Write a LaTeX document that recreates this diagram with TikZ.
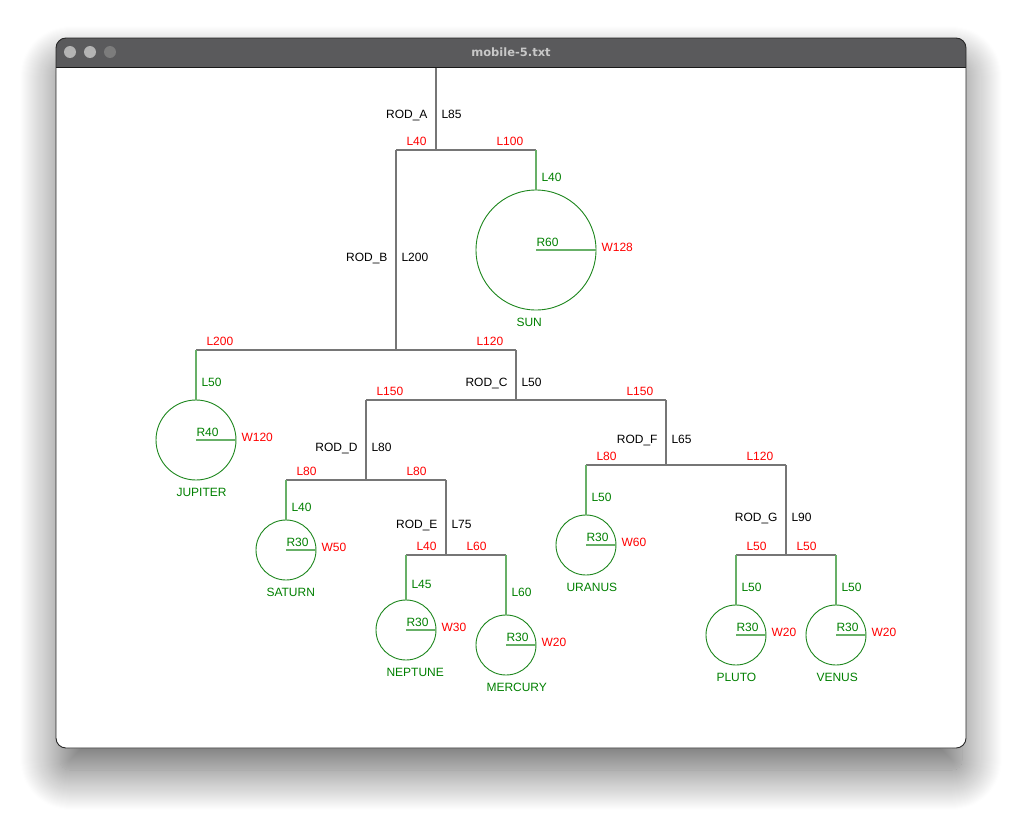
\documentclass[tikz,border=0pt]{standalone}
\usepackage{fontspec}
\setmainfont{Liberation Sans}
\newfontfamily\titlefont{DejaVu Sans}
\usetikzlibrary{shadows.blur}

\definecolor{rodgray}{RGB}{118,118,118}
\definecolor{stemgreen}{RGB}{104,176,104}
\definecolor{ballgreen}{RGB}{30,135,30}
\definecolor{txtgreen}{RGB}{0,128,0}
\definecolor{txtred}{RGB}{255,0,0}
\definecolor{titlebar}{RGB}{90,90,92}
\definecolor{titletext}{RGB}{200,200,200}
\definecolor{lightbtn}{RGB}{180,180,180}
\definecolor{darkbtn}{RGB}{124,124,124}

\tikzset{
  lab/.style={font=\fontsize{12}{14}\selectfont, inner sep=0pt, outer sep=0pt},
  rodname/.style={lab, anchor=base east, text=black},
  rodlen/.style={lab, anchor=base west, text=black},
  armlen/.style={lab, anchor=base west, text=txtred},
  stemlen/.style={lab, anchor=base west, text=txtgreen},
  radlab/.style={lab, anchor=base west, text=txtgreen},
  wlab/.style={lab, anchor=base west, text=txtred},
  namelab/.style={lab, anchor=base west, text=txtgreen},
  rod/.style={draw=rodgray, line width=1.4pt},
  stem/.style={draw=stemgreen, line width=1.5pt},
  ball/.style={circle, draw=ballgreen, line width=0.9pt, inner sep=0pt, outer sep=0pt},
  btn/.style={circle, inner sep=0pt, minimum size=12pt},
}

% A hanging weight: name, x, top of its string, string length, radius, weight
\newcommand\mobweight[6]{%
  \coordinate (#1-top) at (#2,#3);
  \pgfmathsetmacro\mobcy{#3+#4+#5}%
  \pgfmathsetmacro\mobmid{#3+#4/2}%
  \node[ball, minimum size=2*#5 pt] (#1) at (#2,\mobcy) {};
  \coordinate (#1-c) at (#2,\mobcy);
  \coordinate (#1-edge) at (#2+#5,\mobcy);
  \draw[stem] (#1-top) -- (#1.north);
  \draw[stem] (#1-c) -- (#1-edge);
  \node[stemlen] (#1-L) at (#2+5.5,\mobmid+11) {L#4};
  \node[radlab] (#1-R) at (#2+0.5,\mobcy-4) {R#5};
  \node[wlab] (#1-W) at (#2+#5+5.5,\mobcy+1) {W#6};
  \node[namelab] (#1-N) at (#2-19.5,\mobcy+#5+16) {\MakeUppercase{#1}};
}

% A rod: name, pivot x, y of the bar, left arm, right arm
\newcommand\mobrod[5]{%
  \coordinate (#1-p) at (#2,#3);
  \coordinate (#1-l) at (#2-#4,#3);
  \coordinate (#1-r) at (#2+#5,#3);
  \draw[rod] (#1-l) -- (#1-r);
  \node[armlen] (#1-al) at (#2-#4+10.5,#3-5) {L#4};
  \node[armlen] (#1-ar) at (#2+#5-39.5,#3-5) {L#5};
}

\begin{document}
\begin{tikzpicture}[x=1pt,y=-1pt]
\useasboundingbox (0,0) rectangle (1022,822);

% window with its shadow
\path[fill=white, rounded corners=10pt,
  blur shadow={shadow xshift=0pt, shadow yshift=-22pt, shadow blur radius=40pt,
               shadow blur steps=40, shadow opacity=62}]
  (60,44) rectangle (962,748);
\path[fill=white, rounded corners=10pt] (56,38) rectangle (966,748);
\fill[titlebar] (56,67) [rounded corners=10pt] -- (56,38) -- (966,38) [sharp corners] -- (966,67) -- cycle;
\draw[black!90, line width=0.8pt] (56,67) -- (966,67);
\draw[black!85, line width=0.9pt, rounded corners=10pt] (56,38) rectangle (966,748);
\node[btn, fill=lightbtn] (close) at (70,52) {};
\node[btn, fill=lightbtn] (mini) at (90,52) {};
\node[btn, fill=darkbtn] (zoom) at (110,52) {};
\node[font=\titlefont\bfseries\fontsize{11.5}{13}\selectfont, text=titletext, inner sep=0pt]
  (title) at (511,52) {mobile-5.txt};

% ---- rods ----
\coordinate (hook) at (436,67.5);
\mobrod{rodA}{436}{150}{40}{100}
\draw[rod] (hook) -- (rodA-p);
\node[rodname] (rodA-n) at (427.5,118) {ROD\_A};
\node[rodlen] (rodA-len) at (441.5,118) {L85};

\mobrod{rodB}{396}{350}{200}{120}
\draw[rod] (rodA-l) -- (rodB-p);
\node[rodname] (rodB-n) at (387.5,261) {ROD\_B};
\node[rodlen] (rodB-len) at (401.5,261) {L200};

\mobrod{rodC}{516}{400}{150}{150}
\draw[rod] (rodB-r) -- (rodC-p);
\node[rodname] (rodC-n) at (507.5,386) {ROD\_C};
\node[rodlen] (rodC-len) at (521.5,386) {L50};

\mobrod{rodD}{366}{480}{80}{80}
\draw[rod] (rodC-l) -- (rodD-p);
\node[rodname] (rodD-n) at (357.5,451) {ROD\_D};
\node[rodlen] (rodD-len) at (371.5,451) {L80};

\mobrod{rodE}{446}{555}{40}{60}
\draw[rod] (rodD-r) -- (rodE-p);
\node[rodname] (rodE-n) at (437.5,528.5) {ROD\_E};
\node[rodlen] (rodE-len) at (451.5,528.5) {L75};

\mobrod{rodF}{666}{465}{80}{120}
\draw[rod] (rodC-r) -- (rodF-p);
\node[rodname] (rodF-n) at (657.5,443.5) {ROD\_F};
\node[rodlen] (rodF-len) at (671.5,443.5) {L65};

\mobrod{rodG}{786}{555}{50}{50}
\draw[rod] (rodF-r) -- (rodG-p);
\node[rodname] (rodG-n) at (777.5,521) {ROD\_G};
\node[rodlen] (rodG-len) at (791.5,521) {L90};

% ---- weights ----
\mobweight{sun}{536}{150}{40}{60}{128}
\mobweight{jupiter}{196}{350}{50}{40}{120}
\mobweight{saturn}{286}{480}{40}{30}{50}
\mobweight{neptune}{406}{555}{45}{30}{30}
\mobweight{mercury}{506}{555}{60}{30}{20}
\mobweight{uranus}{586}{465}{50}{30}{60}
\mobweight{pluto}{736}{555}{50}{30}{20}
\mobweight{venus}{836}{555}{50}{30}{20}
\end{tikzpicture}
\end{document}
